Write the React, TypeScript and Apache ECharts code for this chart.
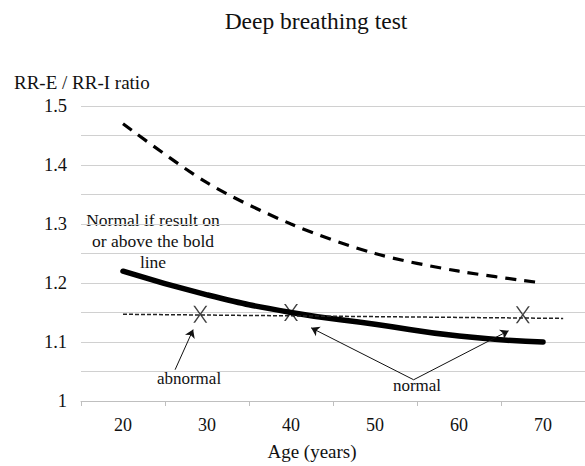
import React, { useEffect, useRef } from "react";
import * as echarts from "echarts";

const ages = ["20", "30", "40", "50", "60", "70"];
const upperLimit = [1.47, 1.37, 1.3, 1.25, 1.22, 1.2];
const lowerNormal = [1.22, 1.18, 1.15, 1.13, 1.11, 1.1];
const resultLine: [number, number][] = [
  [20, 1.147],
  [72.4, 1.14],
];
const results: [number, number][] = [
  [29.2, 1.147],
  [40, 1.15],
  [67.6, 1.146],
];
const abnormalArrow = [[26.2, 1.053], [28.35, 1.121]];
const normalArrows = [
  [[54.6, 1.036], [42.4, 1.124]],
  [[54.6, 1.036], [65.9, 1.119]],
];

const FONT = "Liberation Serif";
const X_PATH =
  "path://M0,0 L1.8,0 L7,7 L12.2,0 L14,0 L7.9,8 L14,16 L12.2,16 L7,9 L1.8,16 L0,16 L6.1,8 Z";

export default function App() {
  const ref = useRef<HTMLDivElement>(null);
  useEffect(() => {
    const chart = echarts.init(ref.current!, null, { renderer: "svg" });
    const arrowData: any[] = [
      [{ coord: abnormalArrow[0] }, { coord: abnormalArrow[1] }],
      ...normalArrows.map((a) => [{ coord: a[0] }, { coord: a[1] }]),
    ];
    const txt = (text: string, size: number, extra: any) => ({
      type: "text",
      ...extra,
      style: { text, fontFamily: FONT, fontSize: size, fill: "#111", ...(extra.style || {}) },
    });
    chart.setOption({
      animation: false,
      backgroundColor: "#fff",
      textStyle: { fontFamily: FONT },
      grid: { left: 81, right: 0, top: 106, bottom: 65, containLabel: false },
      xAxis: [
        {
          type: "category",
          data: ages,
          boundaryGap: true,
          axisLine: { lineStyle: { color: "#bfbfbf", width: 1 } },
          axisTick: { show: true, length: 5, lineStyle: { color: "#bfbfbf" } },
          axisLabel: { fontFamily: FONT, fontSize: 18, color: "#111", margin: 15 },
          splitLine: { show: false },
        },
        {
          type: "value",
          min: 15,
          max: 75,
          show: false,
          splitLine: { show: false },
        },
      ],
      yAxis: {
        type: "value",
        min: 1,
        max: 1.5,
        interval: 0.05,
        axisLine: { show: false },
        axisTick: { show: false },
        splitLine: { lineStyle: { color: "#d0d0d0", width: 1 } },
        axisLabel: {
          fontFamily: FONT,
          fontSize: 18.5,
          color: "#111",
          margin: 14,
          formatter: (v: number) => {
            const r = Math.round(v * 100);
            if (r % 10 !== 0) return "";
            const s = (r / 100).toFixed(1);
            return s.endsWith(".0") ? s.slice(0, -2) : s;
          },
        },
      },
      graphic: [
        txt("Deep breathing test", 23.5, { x: 316, y: 21, style: { align: "center", verticalAlign: "middle" } }),
        txt("RR-E / RR-I ratio", 19, { x: 14, y: 82, style: { align: "left", verticalAlign: "middle" } }),
        txt("Age (years)", 19, { x: 312, y: 451, style: { align: "center", verticalAlign: "middle" } }),
        txt("Normal if result on\nor above the bold\nline", 17.5, {
          x: 153,
          y: 209,
          style: { align: "center", verticalAlign: "top", lineHeight: 21 },
        }),
        txt("abnormal", 17, { x: 189, y: 378, style: { align: "center", verticalAlign: "middle" } }),
        txt("normal", 17, { x: 417, y: 385, style: { align: "center", verticalAlign: "middle" } }),
      ],
      series: [
        {
          name: "upper",
          type: "line",
          data: upperLimit,
          smooth: 0.3,
          symbol: "none",
          lineStyle: { color: "#000", width: 3.2, type: [11, 8] },
        },
        {
          name: "normal limit",
          type: "line",
          data: lowerNormal,
          smooth: true,
          symbol: "none",
          lineStyle: { color: "#000", width: 5.5, cap: "round" },
        },
        {
          name: "result",
          type: "line",
          xAxisIndex: 1,
          data: resultLine,
          symbol: "none",
          lineStyle: { color: "#222", width: 1.5, type: [4, 2] },
        },
        {
          name: "marks",
          type: "scatter",
          xAxisIndex: 1,
          data: results,
          symbol: X_PATH,
          symbolSize: [14, 17],
          itemStyle: { color: "#111" },
          markLine: {
            silent: true,
            symbol: ["none", "arrow"],
            symbolSize: 8,
            label: { show: false },
            lineStyle: { color: "#111", width: 1, type: "solid" },
            data: arrowData,
          },
        },
      ],
    });
    return () => chart.dispose();
  }, []);
  return (
    <div
      ref={ref}
      style={{ position: "fixed", left: 0, top: 0, width: 585, height: 466 }}
    />
  );
}
